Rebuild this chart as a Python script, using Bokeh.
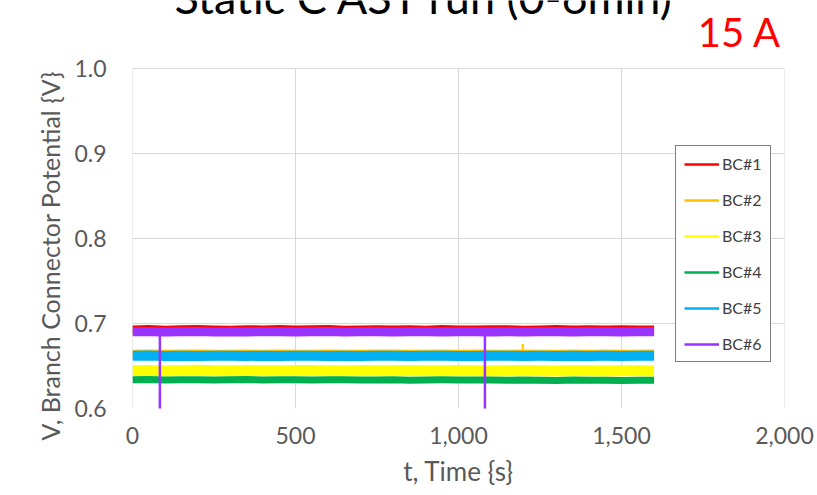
from bokeh.plotting import figure
from bokeh.models import (Label, Legend, LegendItem, NumeralTickFormatter,
                          FixedTicker, Range1d, ColumnDataSource, LinearAxis)
from bokeh.embed import file_html
from bokeh.resources import INLINE

# ---------------- data ----------------
time_s = [0, 50, 100, 150, 200, 250, 300, 350, 400, 450, 500, 550, 600, 650,
          700, 750, 800, 850, 900, 950, 1000, 1050, 1100, 1150, 1200, 1250,
          1300, 1350, 1400, 1450, 1500, 1550, 1600]

bc1 = [0.6925, 0.6928, 0.6922, 0.6926, 0.6930, 0.6924, 0.6921, 0.6927, 0.6925,
       0.6929, 0.6923, 0.6926, 0.6928, 0.6922, 0.6925, 0.6927, 0.6924, 0.6926,
       0.6921, 0.6928, 0.6925, 0.6923, 0.6927, 0.6926, 0.6922, 0.6925, 0.6928,
       0.6924, 0.6926, 0.6923, 0.6927, 0.6925, 0.6924]
bc2 = [0.6645, 0.6647, 0.6643, 0.6646, 0.6648, 0.6644, 0.6645, 0.6647, 0.6643,
       0.6646, 0.6645, 0.6644, 0.6647, 0.6645, 0.6643, 0.6646, 0.6648, 0.6644,
       0.6645, 0.6647, 0.6644, 0.6646, 0.6645, 0.6643, 0.6647, 0.6645, 0.6644,
       0.6646, 0.6645, 0.6647, 0.6644, 0.6645, 0.6646]
bc3 = [0.6445, 0.6448, 0.6442, 0.6446, 0.6449, 0.6444, 0.6441, 0.6447, 0.6445,
       0.6443, 0.6446, 0.6448, 0.6444, 0.6442, 0.6446, 0.6445, 0.6443, 0.6447,
       0.6444, 0.6442, 0.6446, 0.6445, 0.6441, 0.6444, 0.6446, 0.6443, 0.6442,
       0.6445, 0.6443, 0.6441, 0.6444, 0.6443, 0.6442]
bc4 = [0.6338, 0.6340, 0.6336, 0.6339, 0.6337, 0.6335, 0.6338, 0.6340, 0.6336,
       0.6337, 0.6339, 0.6334, 0.6337, 0.6338, 0.6335, 0.6336, 0.6338, 0.6333,
       0.6336, 0.6337, 0.6334, 0.6336, 0.6335, 0.6333, 0.6336, 0.6332, 0.6330,
       0.6334, 0.6331, 0.6333, 0.6330, 0.6333, 0.6332]
bc5 = [0.6620, 0.6623, 0.6618, 0.6621, 0.6619, 0.6622, 0.6620, 0.6617, 0.6621,
       0.6619, 0.6622, 0.6620, 0.6618, 0.6621, 0.6619, 0.6620, 0.6622, 0.6618,
       0.6620, 0.6621, 0.6619, 0.6617, 0.6620, 0.6622, 0.6619, 0.6620, 0.6618,
       0.6621, 0.6619, 0.6620, 0.6618, 0.6621, 0.6620]
bc6 = [0.6902, 0.6904, 0.6900, 0.6903, 0.6905, 0.6901, 0.6903, 0.6900, 0.6904,
       0.6902, 0.6901, 0.6903, 0.6905, 0.6900, 0.6902, 0.6904, 0.6901, 0.6903,
       0.6902, 0.6900, 0.6904, 0.6902, 0.6901, 0.6903, 0.6900, 0.6902, 0.6904,
       0.6901, 0.6903, 0.6902, 0.6900, 0.6903, 0.6902]

# isolated excursions seen in the traces
bc6_spike_t = [84, 1081]
bc6_spike_hi = [0.6902, 0.6902]
bc6_spike_lo = [0.55, 0.55]
bc2_spike_t = [1197]
bc2_spike_hi = [0.6760]
bc2_spike_lo = [0.6648]

series_names = ["BC#1", "BC#2", "BC#3", "BC#4", "BC#5", "BC#6"]
series_colors = ["#FF0000", "#FFC000", "#FFFF00", "#00B050", "#00B0F0", "#9933FF"]
band_widths = [9, 8, 11, 7, 10, 9]

x_ticks = [0, 500, 1000, 1500, 2000]
y_ticks = [0.6, 0.7, 0.8, 0.9, 1.0]
x_min, x_max = 0, 2000
y_min, y_max = 0.6, 1.0
y_headroom = 1.08          # chart area above the plot area, for the titles

title_text = "Static C AST run (0-6min)"
current_text = "15 A"
x_title = "t, Time {s}"
y_title = "V, Branch Connector Potential {V}"

FONT = "Lato"
GREY_TXT = "#595959"
GRID = "#d9d9d9"
nan = float("nan")
NBSP = "\u00a0"

p = figure(width=817, height=495, output_backend="svg", toolbar_location=None,
           x_range=Range1d(x_min, x_max), y_range=Range1d(y_min, y_headroom),
           y_axis_location=None,
           min_border_left=132, min_border_right=33,
           min_border_top=0, min_border_bottom=87)
p.background_fill_color = "white"
p.border_fill_color = "white"
p.outline_line_color = None

yax = LinearAxis(ticker=FixedTicker(ticks=y_ticks), bounds=(y_min, y_max),
                 formatter=NumeralTickFormatter(format="0.0"),
                 # trailing no-break spaces shift the centred title down to the plot area's middle
                 axis_label=y_title + NBSP * 16)
p.add_layout(yax, "left")

for ax in (p.xaxis[0], yax):
    ax.axis_line_color = None
    ax.major_tick_line_color = None
    ax.minor_tick_line_color = None
    ax.major_tick_out = 0
    ax.major_tick_in = 0
    ax.minor_tick_out = 0
    ax.minor_tick_in = 0
    ax.major_label_text_font = FONT
    ax.major_label_text_font_size = "23px"
    ax.major_label_text_color = GREY_TXT
    ax.axis_label_text_font = FONT
    ax.axis_label_text_font_style = "normal"
    ax.axis_label_text_color = GREY_TXT
p.xaxis.ticker = FixedTicker(ticks=x_ticks)
p.xaxis.formatter = NumeralTickFormatter(format="0,0")
p.xaxis.major_label_standoff = 18
p.xaxis.axis_label = x_title
p.xaxis.axis_label_text_font_size = "26px"
p.xaxis.axis_label_standoff = 8
yax.major_label_standoff = 26
yax.axis_label_text_font_size = "25px"
yax.axis_label_standoff = 6

p.xgrid.visible = False
p.ygrid.grid_line_color = GRID
p.ygrid.ticker = FixedTicker(ticks=y_ticks)
# vertical gridlines limited to the plot area (0.6 .. 1.0)
p.segment(x0=x_ticks, y0=[y_min] * len(x_ticks), x1=x_ticks, y1=[y_max] * len(x_ticks),
          line_color=GRID, line_width=1)

src = ColumnDataSource(dict(t=time_s, bc1=bc1, bc2=bc2, bc3=bc3, bc4=bc4, bc5=bc5, bc6=bc6))
cols = ["bc1", "bc2", "bc3", "bc4", "bc5", "bc6"]

legend_items = []
for i, col in enumerate(cols):
    if col == "bc2":
        p.segment(x0=bc2_spike_t, y0=bc2_spike_lo, x1=bc2_spike_t, y1=bc2_spike_hi,
                  line_color=series_colors[1], line_width=2)
    p.line("t", col, source=src, line_color=series_colors[i],
           line_width=band_widths[i], line_join="round")
    if col == "bc6":
        p.segment(x0=bc6_spike_t, y0=bc6_spike_lo, x1=bc6_spike_t, y1=bc6_spike_hi,
                  line_color=series_colors[5], line_width=2.5)
    key = p.line(x=[nan, nan], y=[nan, nan], line_color=series_colors[i], line_width=2.5)
    legend_items.append(LegendItem(label=series_names[i], renderers=[key]))

legend = Legend(items=legend_items, location=(543, 46), orientation="vertical",
                padding=8, spacing=17, glyph_width=35, glyph_height=16,
                label_height=16, label_standoff=3, margin=0,
                label_text_font=FONT, label_text_font_size="16px",
                label_text_color="#404040",
                border_line_color="#000000", border_line_width=1,
                background_fill_color="white", background_fill_alpha=1)
p.add_layout(legend, "center")

# chart title (runs off the top edge, as in the source) and current label
p.add_layout(Label(x=292, y=412, x_units="screen", y_units="screen",
                   text=title_text, text_font=FONT, text_font_size="45px",
                   text_color="#000000", text_align="center",
                   text_baseline="alphabetic"))
p.add_layout(Label(x=649, y=377, x_units="screen", y_units="screen",
                   text=current_text, text_font=FONT, text_font_size="40px",
                   text_color="#FF0000", text_align="right",
                   text_baseline="alphabetic"))

open("out.html", "w").write(file_html(p, INLINE))
